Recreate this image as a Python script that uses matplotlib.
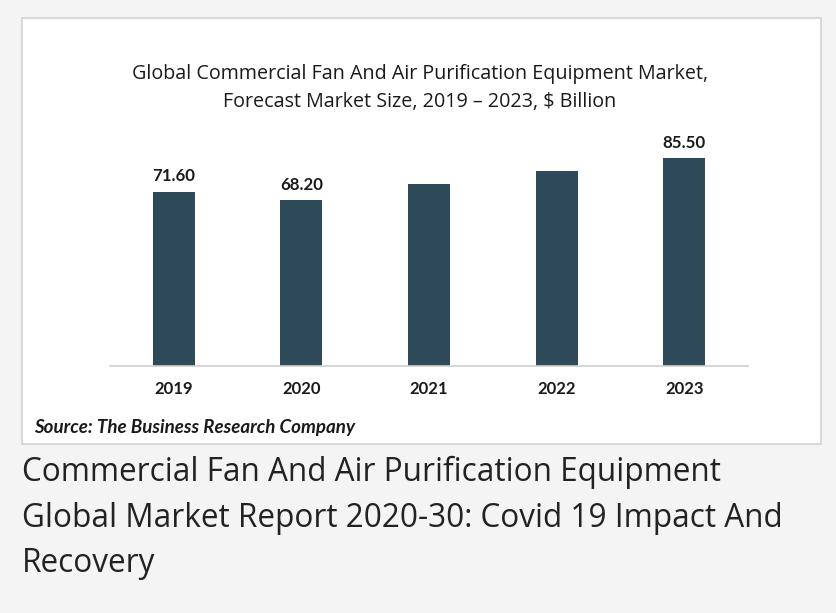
import matplotlib.pyplot as plt
from matplotlib.patches import Rectangle

years = ['2019', '2020', '2021', '2022', '2023']
market_size = [71.6, 68.2, 74.8, 80.1, 85.5]
shown_labels = ['71.60', '68.20', '', '', '85.50']

title = ('Global Commercial Fan And Air Purification Equipment Market,\n'
         'Forecast Market Size, 2019 \u2013 2023, $ Billion')
source = 'Source: The Business Research Company'
caption = ('Commercial Fan And Air Purification Equipment\n'
           'Global Market Report 2020-30: Covid 19 Impact And\n'
           'Recovery')

W, H = 836, 613
fig = plt.figure(figsize=(W / 100, H / 100), dpi=100)
fig.patch.set_facecolor('#f4f4f4')


def fx(px):
    return px / W


def fy(py):
    return 1 - py / H


# white chart panel
panel = Rectangle((fx(22), fy(444)), fx(821) - fx(22), fy(18) - fy(444),
                  transform=fig.transFigure, facecolor='white',
                  edgecolor='#d9d9d9', linewidth=1.5, zorder=-1)
fig.patches.append(panel)

ax = fig.add_axes([fx(110), fy(366), fx(748) - fx(110), fy(130) - fy(366)])
ax.set_zorder(2)
ax.set_facecolor('none')
x = range(len(years))
bars = ax.bar(x, market_size, width=0.33, color='#2e4a58', zorder=2)
ax.set_xlim(-0.5, len(years) - 0.5)
ax.set_ylim(0, 97)

for b, lab in zip(bars, shown_labels):
    if lab:
        ax.text(b.get_x() + b.get_width() / 2, b.get_height() + 3, lab,
                ha='center', va='bottom', fontsize=12.2, fontweight='bold',
                family='Lato', color='#1a1a1a')

ax.set_xticks(list(x))
ax.set_xticklabels(years, fontsize=12, fontweight='bold', family='Lato',
                   color='#1a1a1a')
ax.tick_params(axis='x', length=0, pad=11)
ax.set_yticks([])
for s in ['top', 'right', 'left']:
    ax.spines[s].set_visible(False)
ax.spines['bottom'].set_color('#d0d0d0')
ax.spines['bottom'].set_linewidth(1.2)

fig.text(fx(420), fy(88), title, ha='center', va='center', fontsize=14.2,
         family='Open Sans', color='#1a1a1a', linespacing=1.5)
fig.text(fx(34), fy(427), source, ha='left', va='center', fontsize=13.5,
         fontweight='bold', style='italic', family='Lato', color='#1a1a1a')
fig.text(fx(22), fy(518), caption, ha='left', va='center', fontsize=22.7,
         family='Open Sans', color='#222222', linespacing=1.5)

fig.savefig('out.png', dpi=100, facecolor=fig.get_facecolor())
